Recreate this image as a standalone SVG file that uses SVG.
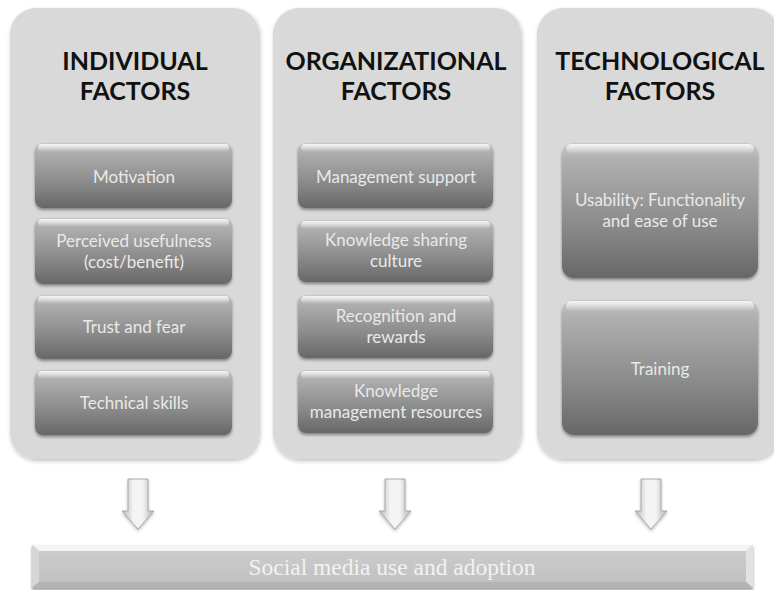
<svg xmlns="http://www.w3.org/2000/svg" width="774" height="590" viewBox="0 0 774 590">
<defs>
  <linearGradient id="boxGrad" x1="0" y1="0" x2="0" y2="1">
    <stop offset="0" stop-color="#c9c9c9"/>
    <stop offset="0.12" stop-color="#b0b0b0"/>
    <stop offset="0.6" stop-color="#8b8b8b"/>
    <stop offset="1" stop-color="#676767"/>
  </linearGradient>
  <linearGradient id="hiGrad" x1="0" y1="0" x2="0" y2="1">
    <stop offset="0" stop-color="#ffffff" stop-opacity="0.85"/>
    <stop offset="1" stop-color="#ffffff" stop-opacity="0"/>
  </linearGradient>
  <linearGradient id="shaftGrad" x1="0" y1="0" x2="1" y2="0">
    <stop offset="0" stop-color="#b5b5b5"/>
    <stop offset="0.35" stop-color="#f4f4f4"/>
    <stop offset="0.65" stop-color="#f4f4f4"/>
    <stop offset="1" stop-color="#b0b0b0"/>
  </linearGradient>
  <linearGradient id="barGrad" x1="0" y1="0" x2="0" y2="1">
    <stop offset="0" stop-color="#cdcdcd"/>
    <stop offset="1" stop-color="#c0c0c0"/>
  </linearGradient>
  <filter id="panelShadow" x="-5%" y="-5%" width="115%" height="115%">
    <feDropShadow dx="1" dy="2" stdDeviation="2" flood-color="#000" flood-opacity="0.25"/>
  </filter>
  <filter id="boxShadow" x="-5%" y="-10%" width="115%" height="130%">
    <feDropShadow dx="0" dy="2" stdDeviation="1.5" flood-color="#000" flood-opacity="0.4"/>
  </filter>
  <filter id="arrowShadow" x="-30%" y="-10%" width="160%" height="130%">
    <feDropShadow dx="0" dy="2" stdDeviation="1.5" flood-color="#000" flood-opacity="0.25"/>
  </filter>
  <g id="arrow">
    <path d="M-10,0 L10,0 L10,32 L16,32 L0,50 L-16,32 L-10,32 Z" fill="url(#shaftGrad)" stroke="#a8a8a8" stroke-width="1"/>
  </g>
</defs>
<style>
  .panel { fill: #d9d9d9; filter: url(#panelShadow); }
  .box { fill: url(#boxGrad); filter: url(#boxShadow); }
  .hi { fill: url(#hiGrad); }
  .head { font-family: Lato, "Liberation Sans", sans-serif; font-weight: bold; font-size: 25px; fill: #111111; text-anchor: middle; }
  .lbl { font-family: Lato, "Liberation Sans", sans-serif; font-size: 17px; fill: #e9e9e9; text-anchor: middle; }
  .bar { font-family: "Liberation Serif", serif; font-size: 23.5px; fill: #f2f2f2; text-anchor: middle; }
</style>
<rect width="774" height="590" fill="#ffffff"/>

<g id="panel-individual">
  <rect class="panel" x="10" y="8" width="249" height="451" rx="26"/>
  <text class="head" x="135" y="70">INDIVIDUAL</text>
  <text class="head" x="135" y="100">FACTORS</text>
</g>
<g id="panel-organizational">
  <rect class="panel" x="273" y="8" width="248" height="451" rx="26"/>
  <text class="head" x="396" y="70">ORGANIZATIONAL</text>
  <text class="head" x="396" y="100">FACTORS</text>
</g>
<g id="panel-technological">
  <rect class="panel" x="537" y="8" width="242" height="451" rx="26"/>
  <text class="head" x="660" y="70">TECHNOLOGICAL</text>
  <text class="head" x="660" y="100">FACTORS</text>
</g>

<g id="box-motivation">
  <rect class="box" x="35" y="143" width="197" height="65" rx="8"/>
  <rect class="hi" x="38" y="144" width="191" height="8" rx="4"/>
  <text class="lbl" x="134" y="183">Motivation</text>
</g>
<g id="box-perceived">
  <rect class="box" x="35" y="218" width="197" height="66" rx="8"/>
  <rect class="hi" x="38" y="219" width="191" height="8" rx="4"/>
  <text class="lbl" x="134" y="247">Perceived usefulness</text>
  <text class="lbl" x="134" y="268">(cost/benefit)</text>
</g>
<g id="box-trust">
  <rect class="box" x="35" y="295" width="197" height="64" rx="8"/>
  <rect class="hi" x="38" y="296" width="191" height="8" rx="4"/>
  <text class="lbl" x="134" y="333">Trust and fear</text>
</g>
<g id="box-technical">
  <rect class="box" x="35" y="370" width="197" height="65" rx="8"/>
  <rect class="hi" x="38" y="371" width="191" height="8" rx="4"/>
  <text class="lbl" x="134" y="409">Technical skills</text>
</g>

<g id="box-management">
  <rect class="box" x="298" y="143" width="195" height="65" rx="8"/>
  <rect class="hi" x="301" y="144" width="189" height="8" rx="4"/>
  <text class="lbl" x="396" y="183">Management support</text>
</g>
<g id="box-sharing">
  <rect class="box" x="298" y="220" width="195" height="62" rx="8"/>
  <rect class="hi" x="301" y="221" width="189" height="8" rx="4"/>
  <text class="lbl" x="396" y="246">Knowledge sharing</text>
  <text class="lbl" x="396" y="267">culture</text>
</g>
<g id="box-recognition">
  <rect class="box" x="298" y="295" width="195" height="63" rx="8"/>
  <rect class="hi" x="301" y="296" width="189" height="8" rx="4"/>
  <text class="lbl" x="396" y="322">Recognition and</text>
  <text class="lbl" x="396" y="343">rewards</text>
</g>
<g id="box-kmresources">
  <rect class="box" x="298" y="370" width="195" height="63" rx="8"/>
  <rect class="hi" x="301" y="371" width="189" height="8" rx="4"/>
  <text class="lbl" x="396" y="397">Knowledge</text>
  <text class="lbl" x="396" y="418">management resources</text>
</g>

<g id="box-usability">
  <rect class="box" x="562" y="143" width="196" height="135" rx="12"/>
  <rect class="hi" x="566" y="144" width="188" height="10" rx="5"/>
  <text class="lbl" x="660" y="206">Usability: Functionality</text>
  <text class="lbl" x="660" y="227">and ease of use</text>
</g>
<g id="box-training">
  <rect class="box" x="562" y="300" width="196" height="135" rx="12"/>
  <rect class="hi" x="566" y="301" width="188" height="10" rx="5"/>
  <text class="lbl" x="660" y="375">Training</text>
</g>

<g id="connectors" filter="url(#arrowShadow)">
  <use href="#arrow" x="138" y="479"/>
  <use href="#arrow" x="395" y="479"/>
  <use href="#arrow" x="651" y="479"/>
</g>

<g id="outcome">
  <rect x="32" y="545" width="721" height="43" fill="url(#barGrad)" filter="url(#boxShadow)"/>
  <path d="M32,545 L753,545 L746,551 L39,551 Z" fill="#f4f4f4"/>
  <path d="M753,545 L753,588 L746,582 L746,551 Z" fill="#e2e2e2"/>
  <path d="M32,545 L39,551 L39,582 L32,588 Z" fill="#d6d6d6"/>
  <path d="M32,588 L39,582 L746,582 L753,588 Z" fill="#b4b4b4"/>
  <text class="bar" x="392" y="575">Social media use and adoption</text>
</g>
</svg>
